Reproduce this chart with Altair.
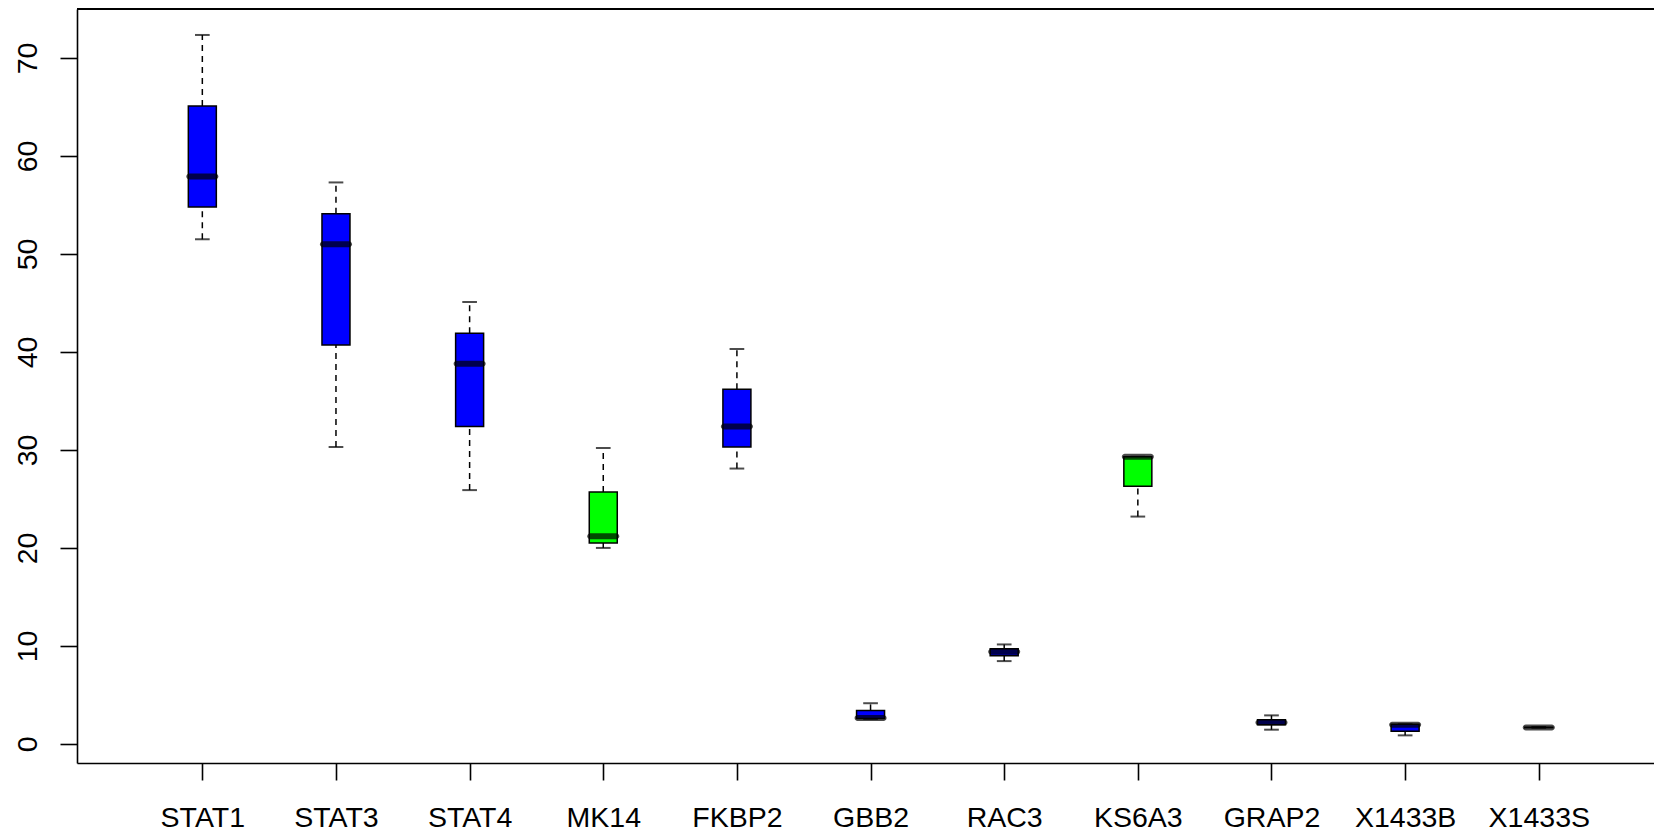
import altair as alt
import pandas as pd

genes = ["STAT1", "STAT3", "STAT4", "MK14", "FKBP2", "GBB2", "RAC3",
         "KS6A3", "GRAP2", "X1433B", "X1433S"]
mins = [51.5, 30.3, 25.9, 20.0, 28.1, 2.55, 8.45, 23.2, 1.45, 0.87, 1.65]
q1s = [54.8, 40.7, 32.4, 20.5, 30.3, 2.6, 9.0, 26.3, 1.96, 1.28, 1.66]
medians = [57.9, 51.0, 38.8, 21.2, 32.4, 2.64, 9.4, 29.3, 2.19, 1.96, 1.68]
q3s = [65.1, 54.1, 41.9, 25.7, 36.2, 3.42, 9.7, 29.3, 2.47, 2.0, 1.70]
maxs = [72.35, 57.3, 45.1, 30.2, 40.3, 4.15, 10.15, 29.3, 2.91, 2.0, 1.72]
fills = ["#0000FF", "#0000FF", "#0000FF", "#00FF00", "#0000FF", "#0000FF",
         "#0000FF", "#00FF00", "#0000FF", "#0000FF", "#0000FF"]
y_ticks = [0, 10, 20, 30, 40, 50, 60, 70]

df = pd.DataFrame({"gene": genes, "min": mins, "q1": q1s, "median": medians,
                   "q3": q3s, "max": maxs, "fill": fills})

W, H = 1577, 754
FONT = "Liberation Sans"

xenc = alt.X("gene:N", sort=genes, title=None,
             scale=alt.Scale(type="point", padding=0.9, align=0.521),
             axis=alt.Axis(labelFont=FONT, labelFontSize=28.5, labelColor="black",
                           labelBaseline="alphabetic", labelPadding=46,
                           labelAngle=0, labelOverlap=False,
                           tickSize=17, tickWidth=1.6, tickColor="black",
                           domain=True, domainColor="black", domainWidth=1.6,
                           grid=False))
yscale = alt.Scale(domain=[-1.95, 75.0], nice=False, zero=False)
yaxis = alt.Axis(values=y_ticks, labelFont=FONT, labelFontSize=28.5,
                 labelColor="black", labelAngle=270, labelAlign="center",
                 labelBaseline="alphabetic", labelPadding=24,
                 tickSize=17, tickWidth=1.6, tickColor="black",
                 domain=True, domainColor="black", domainWidth=1.6,
                 grid=False, title=None)

base = alt.Chart(df)

upper = base.mark_rule(color="black", strokeWidth=1.5, strokeDash=[6, 5]).encode(
    x=xenc, y=alt.Y("q3:Q", scale=yscale, axis=yaxis), y2="max:Q")
lower = base.mark_rule(color="black", strokeWidth=1.5, strokeDash=[6, 5]).encode(
    x=xenc, y=alt.Y("min:Q", scale=yscale, axis=yaxis), y2="q1:Q")
cap_top = base.mark_tick(color="black", size=14.7, thickness=2).encode(
    x=xenc, y=alt.Y("max:Q", scale=yscale, axis=yaxis))
cap_bot = base.mark_tick(color="black", size=14.7, thickness=2).encode(
    x=xenc, y=alt.Y("min:Q", scale=yscale, axis=yaxis))
box = base.mark_bar(size=28, stroke="black", strokeWidth=1.5).encode(
    x=xenc, y=alt.Y("q1:Q", scale=yscale, axis=yaxis), y2="q3:Q",
    fill=alt.Fill("fill:N", scale=None))
med = base.mark_tick(color="black", size=32, thickness=6, cornerRadius=3).encode(
    x=xenc, y=alt.Y("median:Q", scale=yscale, axis=yaxis))
top_line = alt.Chart(df).mark_rule(color="black", strokeWidth=1.6).encode(
    x=alt.value(0), x2=alt.value(W), y=alt.value(0))

chart = alt.layer(upper, lower, cap_top, cap_bot, box, med, top_line).properties(
    width=W, height=H,
    autosize=alt.AutoSizeParams(type="none"),
    padding={"left": 69, "top": 1, "right": 0, "bottom": 64},
    background="white",
).configure_view(stroke=None)

chart.save("out.html", embed_options={"renderer": "svg", "actions": False})
